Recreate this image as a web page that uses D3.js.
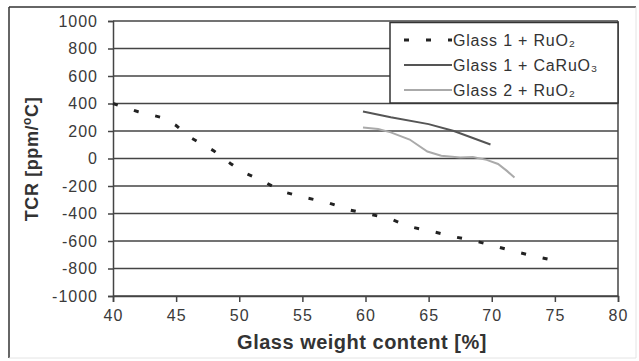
<!DOCTYPE html>
<html><head><meta charset="utf-8">
<script src="https://cdn.jsdelivr.net/npm/d3@7"></script>
<style>body{margin:0;background:#fff;} svg{display:block;font-family:"Liberation Sans",Arial,sans-serif;}</style>
</head><body>
<svg id="c" width="639" height="361"></svg>
<script>
const xTicks = [40,45,50,55,60,65,70,75,80];
const yTicks = [-1000,-800,-600,-400,-200,0,200,400,600,800,1000];
const g1RuX = [40,42,44,45,46,48,49.3,50.2,52,53.4,55.2,57,58.6,60.4,61.9,63.4,65.3,66.9,68.5,70.1,71.8,73.5,75];
const g1RuY = [400,340,295,240,160,55,-36,-95,-170,-240,-284,-320,-371,-407,-436,-494,-531,-567,-596,-633,-676,-713,-742];
const g1CaX = [59.8,62,65,67,69.9];
const g1CaY = [342,300,250,200,102];
const g2RuX = [59.8,61,62,63.5,64.9,66,67.5,68.5,69.6,70.5,71.2,71.8];
const g2RuY = [225,215,190,138,51,20,7,10,-10,-40,-90,-138];
const seriesNames = ["Glass 1 + RuO\u2082","Glass 1 + CaRuO\u2083","Glass 2 + RuO\u2082"];

const svg = d3.select("#c");
const x = d3.scaleLinear().domain([40,80]).range([113,618]);
const y = d3.scaleLinear().domain([-1000,1000]).range([296,21]);

// outer frame
svg.append("line").attr("x1",9).attr("y1",7).attr("x2",636).attr("y2",7).attr("stroke","#333").attr("stroke-width",1.5);
svg.append("line").attr("x1",9).attr("y1",7).attr("x2",9).attr("y2",358).attr("stroke","#333").attr("stroke-width",1.5);
svg.append("line").attr("x1",636).attr("y1",7).attr("x2",636).attr("y2",358).attr("stroke","#e4e4e4").attr("stroke-width",1);
svg.append("line").attr("x1",9).attr("y1",358).attr("x2",636).attr("y2",358).attr("stroke","#e4e4e4").attr("stroke-width",1);

// gridlines
svg.append("g").selectAll("line").data(yTicks).join("line")
  .attr("x1",x(40)).attr("x2",x(80)).attr("y1",d=>y(d)).attr("y2",d=>y(d))
  .attr("stroke","#444").attr("stroke-width",1.5);
svg.append("line").attr("x1",x(80)).attr("x2",x(80)).attr("y1",y(1000)).attr("y2",y(-1000)).attr("stroke","#444").attr("stroke-width",1.5);

// axes
const xAxis = svg.append("g").attr("transform",`translate(0,${y(-1000)})`)
  .call(d3.axisBottom(x).tickValues(xTicks).tickSize(6).tickPadding(8));
const yAxis = svg.append("g").attr("transform",`translate(${x(40)},0)`)
  .call(d3.axisLeft(y).tickValues(yTicks).tickSize(5).tickPadding(10).tickFormat(d=>d));
[xAxis,yAxis].forEach(a=>{
  a.selectAll("path,line").attr("stroke","#444").attr("stroke-width",1.5);
  a.selectAll("text").attr("font-size",16).attr("fill","#3a3a3a").attr("letter-spacing","1")
    .attr("font-family","'Liberation Sans',Arial,sans-serif");
});

const line = d3.line().x(d=>x(d[0])).y(d=>y(d[1]));
const zip = (a,b)=>a.map((v,i)=>[v,b[i]]);
svg.append("path").datum(zip(g1RuX,g1RuY)).attr("d",line).attr("fill","none")
  .attr("stroke","#222").attr("stroke-width",3).attr("stroke-dasharray","5,17");
svg.append("path").datum(zip(g1CaX,g1CaY)).attr("d",line).attr("fill","none")
  .attr("stroke","#555").attr("stroke-width",2);
svg.append("path").datum(zip(g2RuX,g2RuY)).attr("d",line).attr("fill","none")
  .attr("stroke","#aaa").attr("stroke-width",2);

// legend
const lg = svg.append("g");
lg.append("rect").attr("x",390).attr("y",22.5).attr("width",228).attr("height",80.5)
  .attr("fill","#fff").attr("stroke","#333").attr("stroke-width",1.5);
const legStyles = [
  {c:"#222",w:3,d:"5,17"},
  {c:"#555",w:2,d:null},
  {c:"#aaa",w:2,d:null}
];
const legY = [40,65,90];
seriesNames.forEach((n,i)=>{
  const l = lg.append("line").attr("x1",404).attr("x2",452).attr("y1",legY[i]).attr("y2",legY[i])
    .attr("stroke",legStyles[i].c).attr("stroke-width",legStyles[i].w);
  if(legStyles[i].d) l.attr("stroke-dasharray",legStyles[i].d);
  lg.append("text").attr("x",453).attr("y",legY[i]+6).attr("font-size",16).attr("fill","#333")
    .attr("letter-spacing","0.8").text(n);
});

// axis titles
svg.append("text").attr("x",362).attr("y",349).attr("text-anchor","middle")
  .attr("font-size",20).attr("font-weight","bold").attr("fill","#333").attr("letter-spacing","0.5")
  .text("Glass weight content [%]");
const yt = svg.append("text").attr("transform","translate(38,159) rotate(-90)").attr("text-anchor","middle")
  .attr("font-size",18).attr("font-weight","bold").attr("fill","#333").attr("letter-spacing","0.6");
yt.append("tspan").text("TCR [ppm/");
yt.append("tspan").attr("dy",-7).attr("font-size",12).text("o");
yt.append("tspan").attr("dy",7).text("C]");
</script>
</body></html>
